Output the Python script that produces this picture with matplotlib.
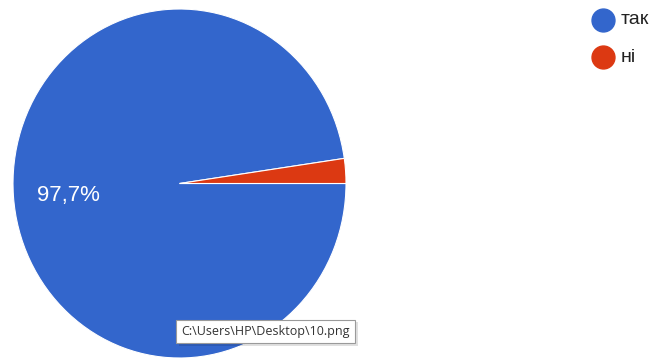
import matplotlib
matplotlib.use("Agg")
import matplotlib.pyplot as plt
from matplotlib.patches import Rectangle

# Дані діаграми
labels = ["так", "ні"]
values = [97.7, 2.3]
colors = ["#3366cc", "#dc3912"]
pct_label = "97,7%"
tooltip = r"C:\Users\HP\Desktop\10.png"

W, H = 658, 360
fig = plt.figure(figsize=(W / 100, H / 100), dpi=100)

# Піксельні межі кола на скріншоті (трохи витягнуте по вертикалі)
left, right, top, bottom = 13, 346, 9, 358
ax = fig.add_axes([left / W, (H - bottom) / H, (right - left) / W, (bottom - top) / H])

wedges, _ = ax.pie(values, colors=colors, startangle=0, counterclock=False,
                   wedgeprops=dict(edgecolor="white", linewidth=0.8))
ax.set_aspect("auto")
ax.set_xlim(-1, 1)
ax.set_ylim(-1, 1)
ax.axis("off")

# Підпис відсотка
fig.text(68 / W, 1 - 195 / H, pct_label, color="white",
         fontsize=16, ha="center", va="center", family="Liberation Sans")

# Легенда (кружечки + підписи)
for i, (lab, c) in enumerate(zip(labels, colors)):
    y = 1 - (20 + 37 * i) / H
    fig.lines.append(plt.Line2D([603 / W], [y], marker="o", markersize=16.5,
                                markerfacecolor=c, markeredgecolor=c,
                                transform=fig.transFigure, figure=fig))
    fig.text(621 / W, y, lab, fontsize=14, ha="left", va="center",
             color="#222222", family="Liberation Sans")

# Підказка з шляхом файлу (рамка + легка тінь)
def px_rect(x0, y0, x1, y1, **kw):
    return Rectangle((x0 / W, 1 - y1 / H), (x1 - x0) / W, (y1 - y0) / H,
                     transform=fig.transFigure, figure=fig, **kw)

fig.patches.append(px_rect(179, 322, 358, 346, facecolor="#000000", alpha=0.12,
                           edgecolor="none"))
fig.patches.append(px_rect(176, 320, 355, 343, facecolor="white",
                           edgecolor="#9a9a9a", linewidth=0.8))
fig.text(181 / W, 1 - 331.5 / H, tooltip, fontsize=9, ha="left", va="center",
         color="#333333", family="Open Sans")

fig.savefig("out.png", dpi=100)
